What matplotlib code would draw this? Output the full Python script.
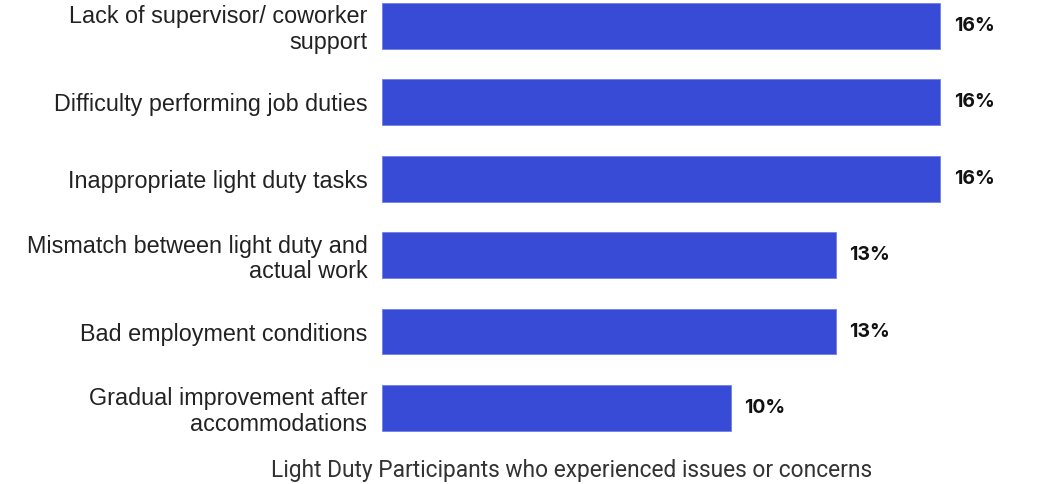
import matplotlib.pyplot as plt

categories = [
    "Lack of supervisor/ coworker\nsupport",
    "Difficulty performing job duties",
    "Inappropriate light duty tasks",
    "Mismatch between light duty and\nactual work",
    "Bad employment conditions",
    "Gradual improvement after\naccommodations",
]
values = [16, 16, 16, 13, 13, 10]
bar_color = "#384bd6"

fig = plt.figure(figsize=(10.53, 4.84), dpi=100)
ax = fig.add_axes([382 / 1053, 44 / 484, 1 - 382 / 1053, 440 / 484])

y = list(range(len(values)))
ax.barh(y, values, height=0.6, color=bar_color, edgecolor="#6f7fe6", linewidth=0.6)

ax.set_xlim(0, 671 / 34.9)
ax.set_ylim(5.42, -0.34)

ax.set_yticks(y)
ax.set_yticklabels(categories, fontsize=16.8, family="Liberation Sans",
                   color="#222222", linespacing=1.12)
ax.tick_params(axis="y", length=0, pad=10.5)
ax.set_xticks([])
for s in ax.spines.values():
    s.set_visible(False)

for yi, v in zip(y, values):
    ax.annotate(f"{v}%", (v, yi), xytext=(9.5, 0), textcoords="offset points",
                va="center", ha="left", fontsize=14, fontweight="bold",
                family="Inter", color="#111111")

fig.text(572 / 1053, 14 / 484, "Light Duty Participants who experienced issues or concerns",
         ha="center", va="center", fontsize=16.4, family="Roboto", color="#333333")

fig.savefig("out.png", dpi=100)
